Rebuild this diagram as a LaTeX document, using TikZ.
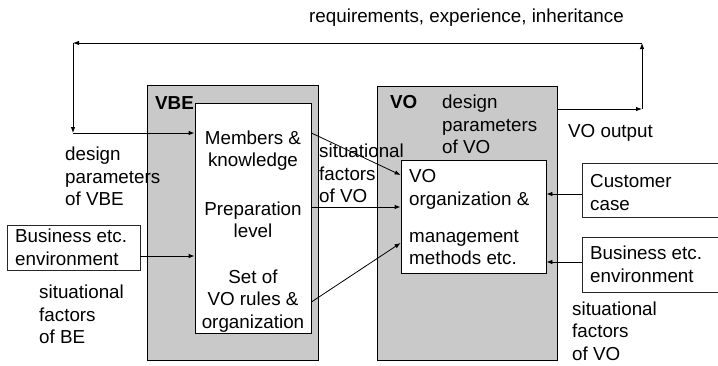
\documentclass[tikz,border=0pt]{standalone}
\usepackage{fontspec}
\setmainfont{Liberation Sans}
\usetikzlibrary{arrows.meta}
\tikzset{
  txt/.style={inner sep=0pt, font=\fontsize{18.8}{22.5}\selectfont},
  graybox/.style={draw=black, line width=0.8pt, fill=gray!42, inner sep=0pt},
  whitebox/.style={draw=black, line width=0.8pt, fill=white, inner sep=0pt},
  extbox/.style={draw=black!85, line width=0.8pt, fill=white, inner sep=0pt},
  conn/.style={line width=0.8pt, -{Latex[length=6pt,width=4.5pt]}},
}
\begin{document}
\begin{tikzpicture}[x=1pt,y=-1pt]
\useasboundingbox (0,0) rectangle (718,365);

% main blocks
\node[graybox, minimum width=171pt, minimum height=275pt] (vbe) at (232.5,222.5) {};
\node[whitebox, minimum width=116pt, minimum height=230pt] (vbein) at (253,218) {};
\node[graybox, minimum width=180pt, minimum height=274pt] (vo) at (467,223) {};
\node[whitebox, minimum width=145pt, minimum height=113pt] (voin) at (473.5,216.5) {};

% external boxes
\node[extbox, minimum width=133pt, minimum height=45pt] (be1) at (73.5,247.5) {};
\node[extbox, minimum width=150pt, minimum height=54pt] (cust) at (657,190) {};
\node[extbox, minimum width=150pt, minimum height=55pt] (be2) at (657,264.5) {};

% texts
\node[txt] (req) at (466.5,18) {requirements, experience, inheritance};
\node[txt, anchor=west, align=left] (dpvbe) at (65,176.5) {design\\parameters\\of VBE};
\node[txt, font=\fontsize{18.8}{22.5}\selectfont\bfseries] (vbelbl) at (174.5,103) {VBE};
\node[txt, align=center] (mem) at (253,150.5) {Members \&\\knowledge};
\node[txt, align=center] (prep) at (253,220) {Preparation\\level};
\node[txt, align=center] (setof) at (253,301) {Set of\\VO rules \&\\organization};
\node[txt, anchor=west, align=left] (sitmid) at (319,173.5) {situational\\factors\\of VO};
\node[txt, font=\fontsize{18.8}{22.5}\selectfont\bfseries, anchor=west] (volbl) at (390,102) {VO};
\node[txt, anchor=west, align=left] (dpvo) at (442,124.5) {design\\parameters\\of VO};
\node[txt, anchor=west] (voout) at (568,133) {VO output};
\node[txt, anchor=west, align=left] (voorg) at (409,189.5) {VO\\organization \&};
\node[txt, anchor=west, align=left] (vomgmt) at (409,247.5) {management\\methods etc.};
\node[txt, anchor=west, align=left] (be1t) at (15,247.5) {Business etc.\\environment};
\node[txt, anchor=west, align=left] (sitbe) at (39,314.5) {situational\\factors\\of BE};
\node[txt, anchor=west, align=left] (custt) at (590,192.5) {Customer\\case};
\node[txt, anchor=west, align=left] (be2t) at (590,264.5) {Business etc.\\environment};
\node[txt, anchor=west, align=left] (sitvo) at (572,331) {situational\\factors\\of VO};

% feedback loop
\coordinate (c1) at (642,109);
\coordinate (c2) at (642,43);
\coordinate (c3) at (73,43);
\coordinate (c4) at (73,133);
\draw[conn] (vo.east |- 0,109) -- (c1);
\draw[conn] (c1) -- (c2);
\draw[conn] (c2) -- (c3);
\draw[conn] (c3) -- (c4);
\draw[conn] (c4) -- (vbein.west |- 0,133);

% inputs
\draw[conn] (be1.east |- 0,256) -- (vbein.west |- 0,256);
\draw[conn] (vbein.east |- 0,133) -- (voin.west |- 0,175);
\draw[conn] (vbein.east |- 0,207) -- (voin.west |- 0,207);
\draw[conn] (vbein.east |- 0,302) -- (voin.west |- 0,243);
\draw[conn] (cust.west |- 0,194) -- (voin.east |- 0,194);
\draw[conn] (be2.west |- 0,262) -- (voin.east |- 0,262);
\end{tikzpicture}
\end{document}
